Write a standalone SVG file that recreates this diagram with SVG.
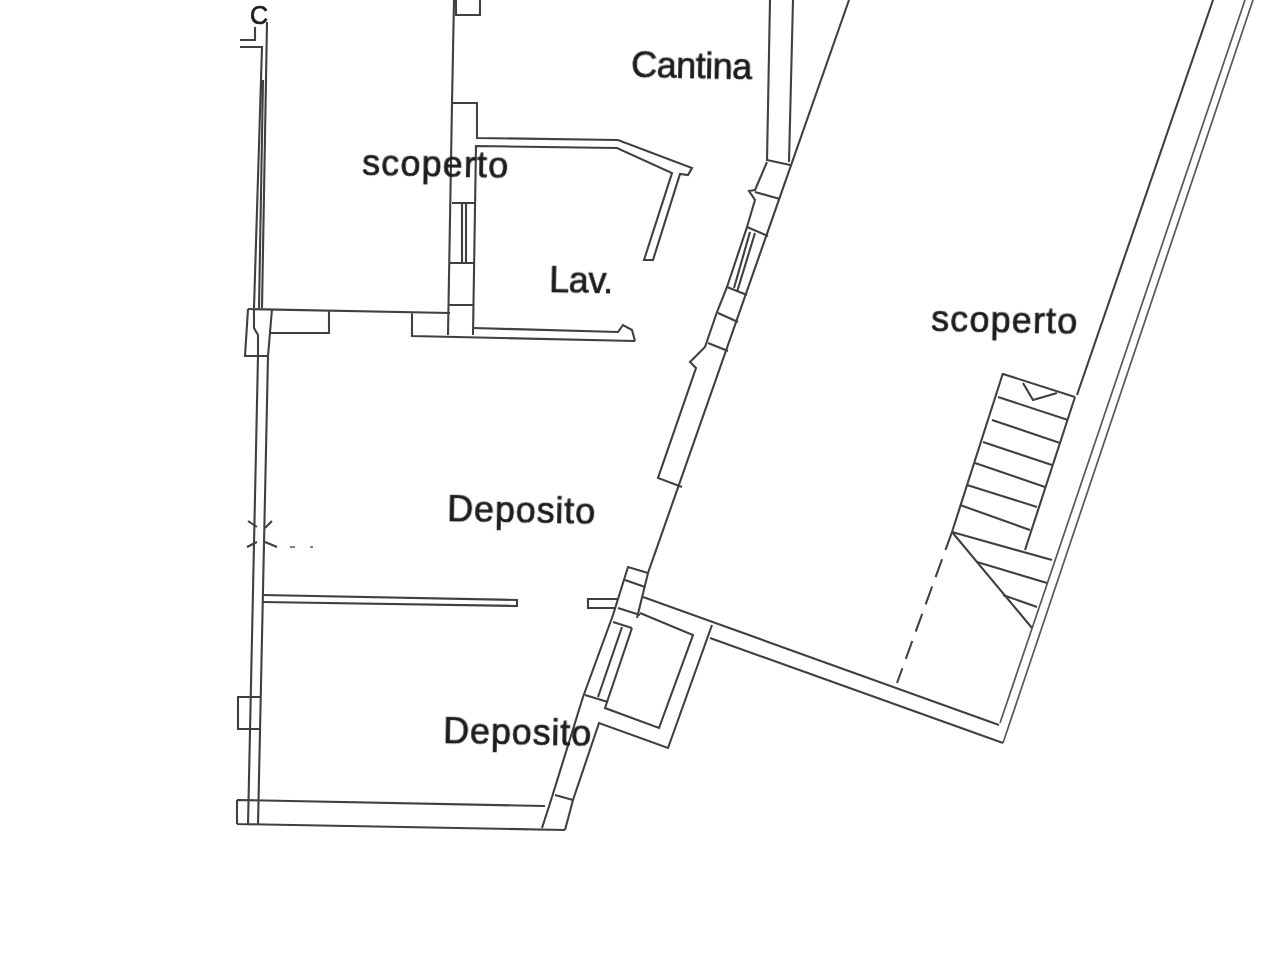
<svg xmlns="http://www.w3.org/2000/svg" width="1280" height="960" viewBox="0 0 1280 960">
<defs>
<filter id="soft" x="-5%" y="-5%" width="110%" height="110%"><feGaussianBlur stdDeviation="0.5"/></filter>
</defs>
<style>
.w{fill:none;stroke:#404040;stroke-width:2.1;stroke-linejoin:miter}
.t{stroke-width:1.7;stroke:#585858}
.d{stroke-dasharray:19 10}
.l{font-family:"Liberation Sans",Arial,sans-serif;font-size:36px;fill:#1c1c1c;stroke:#1c1c1c;stroke-width:.7}
</style>
<rect width="1280" height="960" fill="#fff"/>
<g filter="url(#soft)">
<g id="left-wall" class="w">
<path d="M240 40H255V27M240 47H262L254 308M267 22L262 308M263 80L259 308"/>
<path d="M248 309L245 356H268L272 309M254 310V328L258 335V356"/>
<path d="M258 356L248 825M268 356L258 825"/>
<path d="M248 697H238V729H261M248 697H261"/>
<path d="M248 521L257 527M272 521L265 528M247 547L257 542M277 547L265 542"/>
<path class="t" d="M290 547H295M310 547H313"/>
</g>
<g id="bottom-wall" class="w">
<path d="M237 800L545 806M237 824L565 830M237 800V824"/>
<path d="M262 595L517 600V606L262 602"/>
</g>
<g id="top-room" class="w">
<path d="M248 309L450 313M270 333H329V311M412 312V336L635 341"/>
<path d="M454 0L452 103L448 335M452 103H477V138L618 140L692 168L688 175L680 174L653 260H644L672 173L617 148L476 146L473 335"/>
<path d="M452 203H476M449 263H475M449 305H474M462 204V262M466 204V262"/>
<path d="M456 0V15H480V0"/>
<path d="M473 328L618 332L623 325L632 330L635 341"/>
</g>
<g id="cantina-wall" class="w">
<path d="M770 0L767 161M793 0L789 162M849 0L648 573L637 618M767 160L790 165"/>
<path d="M767 162L755 190L749 191L755 200L747 227L727 287L717 312L705 347L690 362L696 368L658 478L682 487"/>
<path d="M755 192L780 199M747 227L768 236M727 287L747 295M718 313L738 322M708 343L728 351"/>
<path d="M755 233L737 292M750 232L734 288"/>
</g>
<g id="corner-room" class="w">
<path d="M552 797L583 697L613 615L628 567L648 573"/>
<path d="M542 828L552 797M565 830L573 800L599 723L668 748L712 625"/>
<path d="M643 597L999 725M640 613L693 635L659 728L605 708L632 628M710 638L1003 743"/>
<path d="M585 695L608 702M555 795L573 800M613 622L632 628M618 608L640 615M625 580L645 587M622 627L598 697"/>
<path d="M618 599H588V608H616"/>
</g>
<g id="right-wall" class="w">
<path d="M1213 0L1077 395"/>
<path class="t" d="M1245 0L1000 723M1253 0L1003 743"/>
</g>
<g id="stairs" class="w">
<path d="M1003 373L952 532M1075 397L1025 550M1003 374L1075 397"/>
<path d="M998 397L1068 420M992 420L1060 443M983 442L1052 465M975 463L1045 487M967 485L1037 507M960 505L1030 530M952 532L1052 560M977 562L1047 583M1003 595L1037 607"/>
<path d="M952 532L1032 628M1023 383L1033 400L1057 393"/>
<path class="d" d="M952 532L897 683"/>
</g>
</g>
<g id="labels" filter="url(#soft)">
<text class="l" x="250" y="24" style="font-size:25px">C</text>
<text class="l" x="631" y="77" textLength="121" transform="rotate(1.1 631 77)">Cantina</text>
<text class="l" x="362" y="175" textLength="146" transform="rotate(1.1 362 175)">scoperto</text>
<text class="l" x="549" y="292" textLength="64" transform="rotate(1.1 549 292)">Lav.</text>
<text class="l" x="931" y="331" textLength="146" transform="rotate(1.1 931 331)">scoperto</text>
<text class="l" x="447" y="521" textLength="148" transform="rotate(1.1 447 521)">Deposito</text>
<text class="l" x="443" y="743" textLength="148" transform="rotate(1.1 443 743)">Deposito</text>
</g>
</svg>
